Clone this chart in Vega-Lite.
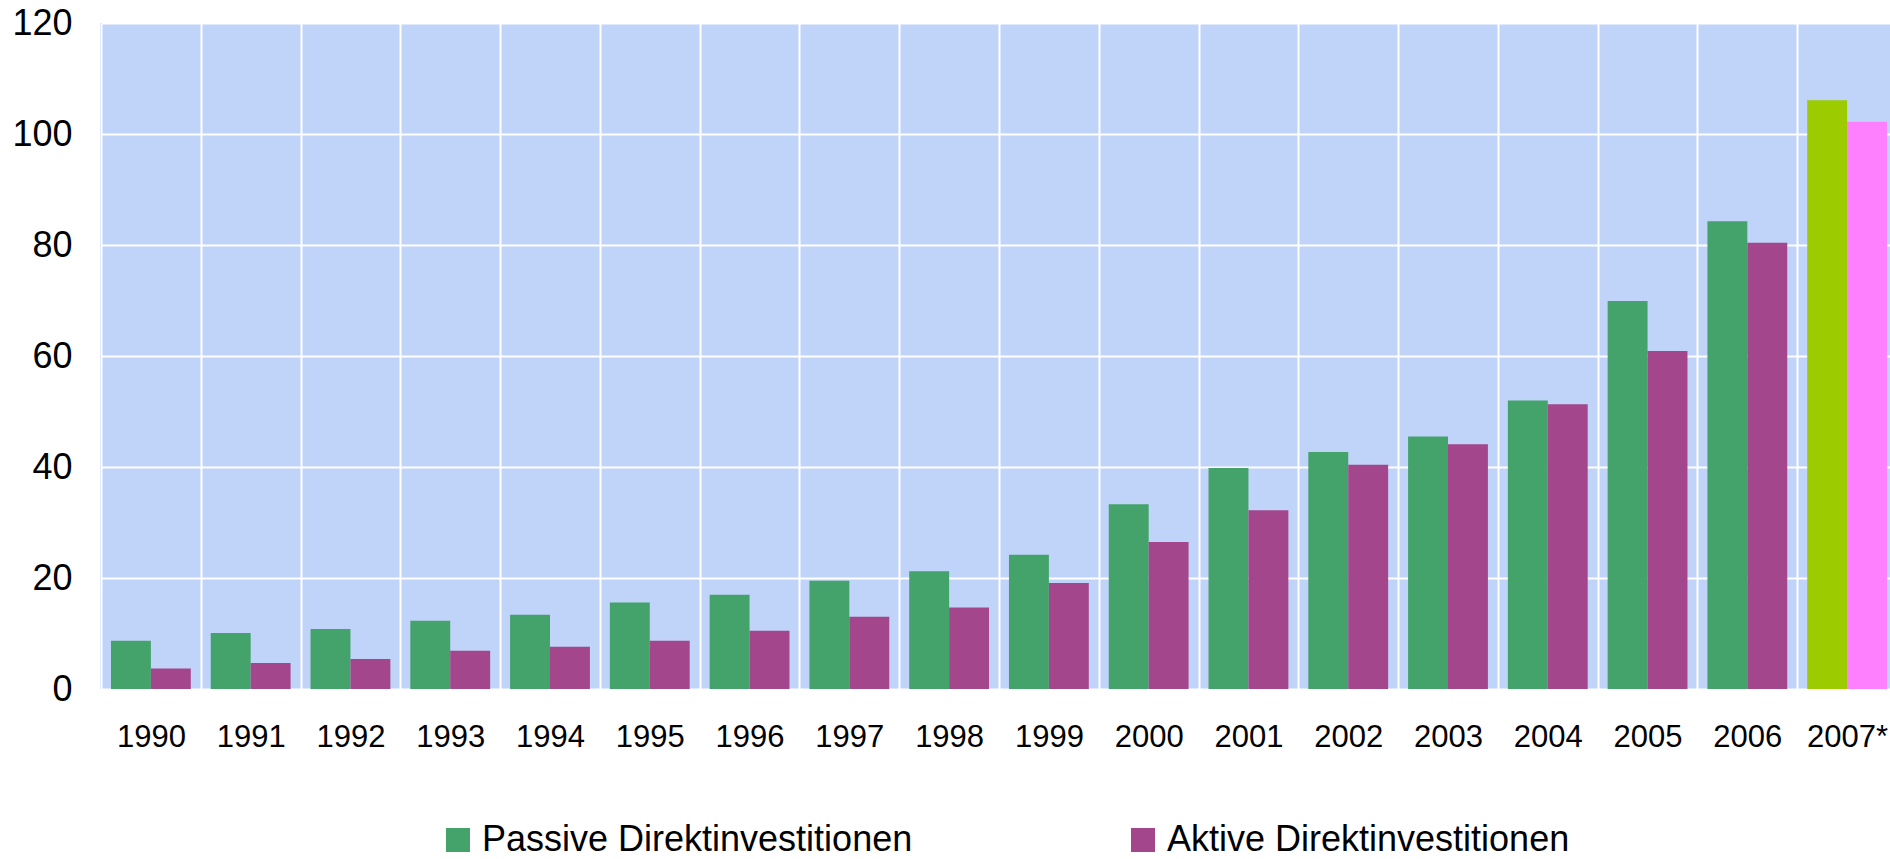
{
  "$schema": "https://vega.github.io/schema/vega-lite/v6.json",
  "autosize": {"type": "none"},
  "padding": {"left": 100, "top": 23, "right": 0, "bottom": 170},
  "width": 1790,
  "height": 666,
  "background": "white",
  "config": {
    "view": {"fill": "#C0D3F8", "stroke": null},
    "font": "Liberation Sans"
  },
  "data": {
    "values": [
      {"jahr": "1990", "serie": "Passive", "kategorie": "Passive Direktinvestitionen", "wert": 8.7},
      {"jahr": "1990", "serie": "Aktive", "kategorie": "Aktive Direktinvestitionen", "wert": 3.7},
      {"jahr": "1991", "serie": "Passive", "kategorie": "Passive Direktinvestitionen", "wert": 10.1},
      {"jahr": "1991", "serie": "Aktive", "kategorie": "Aktive Direktinvestitionen", "wert": 4.7},
      {"jahr": "1992", "serie": "Passive", "kategorie": "Passive Direktinvestitionen", "wert": 10.8},
      {"jahr": "1992", "serie": "Aktive", "kategorie": "Aktive Direktinvestitionen", "wert": 5.4},
      {"jahr": "1993", "serie": "Passive", "kategorie": "Passive Direktinvestitionen", "wert": 12.3},
      {"jahr": "1993", "serie": "Aktive", "kategorie": "Aktive Direktinvestitionen", "wert": 6.9},
      {"jahr": "1994", "serie": "Passive", "kategorie": "Passive Direktinvestitionen", "wert": 13.4},
      {"jahr": "1994", "serie": "Aktive", "kategorie": "Aktive Direktinvestitionen", "wert": 7.6},
      {"jahr": "1995", "serie": "Passive", "kategorie": "Passive Direktinvestitionen", "wert": 15.6},
      {"jahr": "1995", "serie": "Aktive", "kategorie": "Aktive Direktinvestitionen", "wert": 8.7},
      {"jahr": "1996", "serie": "Passive", "kategorie": "Passive Direktinvestitionen", "wert": 17.0},
      {"jahr": "1996", "serie": "Aktive", "kategorie": "Aktive Direktinvestitionen", "wert": 10.5},
      {"jahr": "1997", "serie": "Passive", "kategorie": "Passive Direktinvestitionen", "wert": 19.5},
      {"jahr": "1997", "serie": "Aktive", "kategorie": "Aktive Direktinvestitionen", "wert": 13.0},
      {"jahr": "1998", "serie": "Passive", "kategorie": "Passive Direktinvestitionen", "wert": 21.2},
      {"jahr": "1998", "serie": "Aktive", "kategorie": "Aktive Direktinvestitionen", "wert": 14.7},
      {"jahr": "1999", "serie": "Passive", "kategorie": "Passive Direktinvestitionen", "wert": 24.2},
      {"jahr": "1999", "serie": "Aktive", "kategorie": "Aktive Direktinvestitionen", "wert": 19.1},
      {"jahr": "2000", "serie": "Passive", "kategorie": "Passive Direktinvestitionen", "wert": 33.3},
      {"jahr": "2000", "serie": "Aktive", "kategorie": "Aktive Direktinvestitionen", "wert": 26.5},
      {"jahr": "2001", "serie": "Passive", "kategorie": "Passive Direktinvestitionen", "wert": 39.8},
      {"jahr": "2001", "serie": "Aktive", "kategorie": "Aktive Direktinvestitionen", "wert": 32.2},
      {"jahr": "2002", "serie": "Passive", "kategorie": "Passive Direktinvestitionen", "wert": 42.7},
      {"jahr": "2002", "serie": "Aktive", "kategorie": "Aktive Direktinvestitionen", "wert": 40.4},
      {"jahr": "2003", "serie": "Passive", "kategorie": "Passive Direktinvestitionen", "wert": 45.5},
      {"jahr": "2003", "serie": "Aktive", "kategorie": "Aktive Direktinvestitionen", "wert": 44.1},
      {"jahr": "2004", "serie": "Passive", "kategorie": "Passive Direktinvestitionen", "wert": 52.0},
      {"jahr": "2004", "serie": "Aktive", "kategorie": "Aktive Direktinvestitionen", "wert": 51.3},
      {"jahr": "2005", "serie": "Passive", "kategorie": "Passive Direktinvestitionen", "wert": 69.9},
      {"jahr": "2005", "serie": "Aktive", "kategorie": "Aktive Direktinvestitionen", "wert": 60.9},
      {"jahr": "2006", "serie": "Passive", "kategorie": "Passive Direktinvestitionen", "wert": 84.3},
      {"jahr": "2006", "serie": "Aktive", "kategorie": "Aktive Direktinvestitionen", "wert": 80.4},
      {"jahr": "2007*", "serie": "Passive", "kategorie": "Passive 2007", "wert": 106.1},
      {"jahr": "2007*", "serie": "Aktive", "kategorie": "Aktive 2007", "wert": 102.2}
    ]
  },
  "mark": {"type": "bar", "cornerRadius": 0},
  "encoding": {
    "x": {
      "field": "jahr",
      "type": "nominal",
      "sort": null,
      "title": null,
      "scale": {"range": [1, 1797], "paddingInner": 0, "paddingOuter": 0},
      "axis": {
        "labelAngle": 0,
        "labelFontSize": 31,
        "labelColor": "black",
        "labelPadding": 33,
        "labelOverlap": false,
        "ticks": false,
        "domain": false,
        "grid": true,
        "tickBand": "extent",
        "gridColor": "white",
        "gridWidth": 2,
        "gridOpacity": 1
      }
    },
    "xOffset": {
      "field": "serie",
      "type": "nominal",
      "sort": ["Passive", "Aktive"],
      "scale": {"paddingInner": 0, "paddingOuter": 0.25}
    },
    "y": {
      "field": "wert",
      "type": "quantitative",
      "title": null,
      "scale": {"domain": [0, 120], "nice": false},
      "axis": {
        "values": [0, 20, 40, 60, 80, 100, 120],
        "labelFontSize": 36,
        "labelColor": "black",
        "labelPadding": 28,
        "ticks": false,
        "domain": false,
        "grid": true,
        "gridColor": "white",
        "gridWidth": 2,
        "gridOpacity": 1
      }
    },
    "color": {
      "field": "kategorie",
      "type": "nominal",
      "title": null,
      "scale": {
        "domain": ["Passive Direktinvestitionen", "Aktive Direktinvestitionen", "Passive 2007", "Aktive 2007"],
        "range": ["#43A36A", "#A3468B", "#9CCC00", "#FF80FF"]
      },
      "legend": {
        "values": ["Passive Direktinvestitionen", "Aktive Direktinvestitionen"],
        "orient": "none",
        "direction": "horizontal",
        "legendX": 340,
        "legendY": 799,
        "symbolType": "square",
        "symbolSize": 576,
        "symbolStrokeWidth": 0,
        "symbolOpacity": 1,
        "labelFontSize": 36,
        "labelColor": "black",
        "labelOffset": 6,
        "labelLimit": 0,
        "columnPadding": 212,
        "padding": 0
      }
    }
  }
}
